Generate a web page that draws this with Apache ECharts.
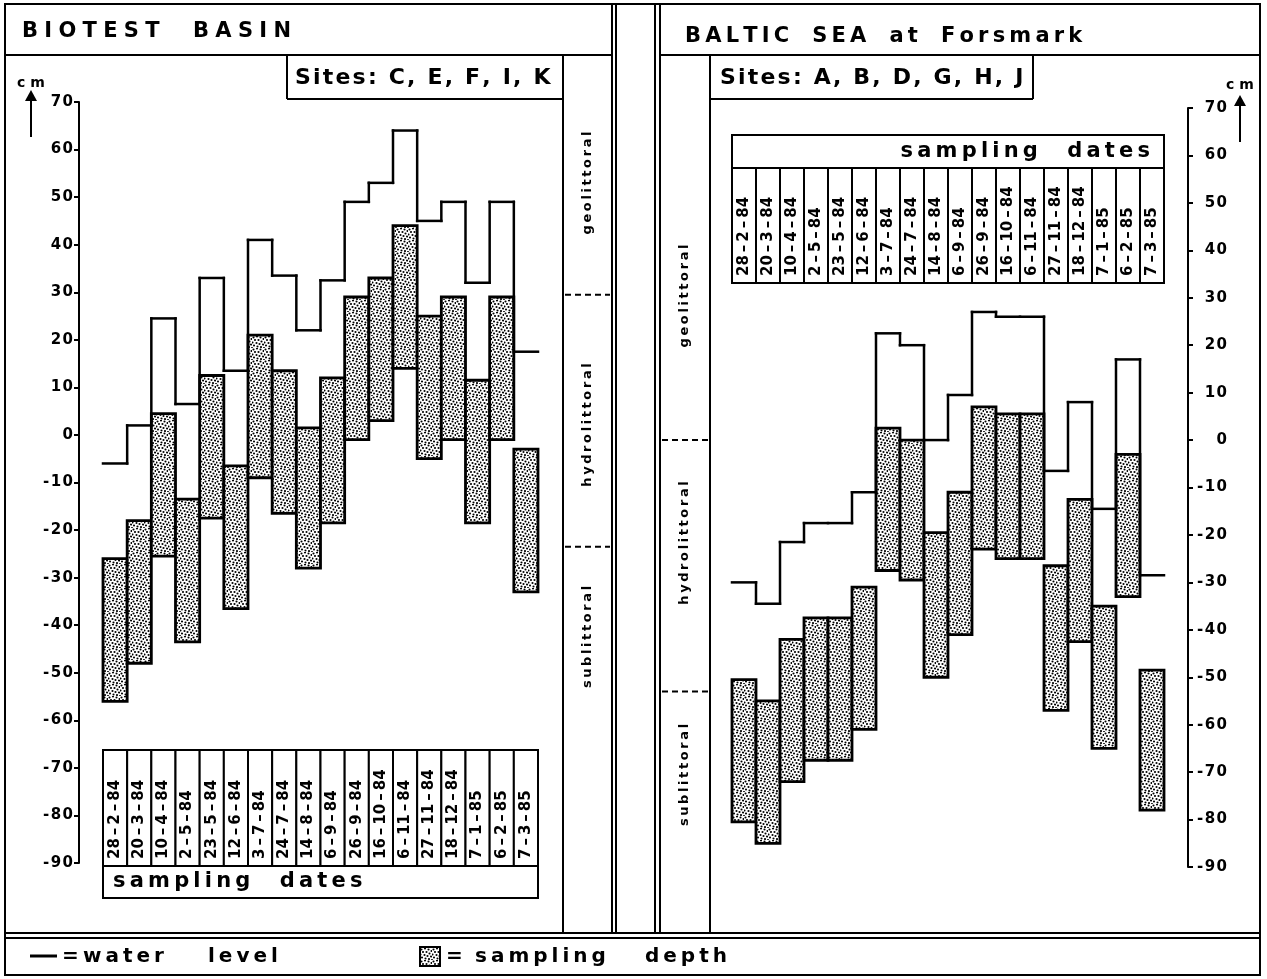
<!DOCTYPE html>
<html>
<head>
<meta charset="utf-8">
<script src="https://cdn.jsdelivr.net/npm/echarts@6/dist/echarts.min.js"></script>
<style>
  html, body { margin: 0; padding: 0; background: #fff; }
  #chart { width: 1267px; height: 979px; }
</style>
</head>
<body>
<div id="chart"></div>
<script>
// Sampling dates, identical at both stations
const samplingDates = ['28-2-84', '20-3-84', '10-4-84', '2-5-84', '23-5-84', '12-6-84', '3-7-84',
  '24-7-84', '14-8-84', '6-9-84', '26-9-84', '16-10-84', '6-11-84', '27-11-84', '18-12-84',
  '7-1-85', '6-2-85', '7-3-85'];

// Depth scale (cm), tick every 10 cm
const depthTicks = [-90, -80, -70, -60, -50, -40, -30, -20, -10, 0, 10, 20, 30, 40, 50, 60, 70];

// Biotest basin, sites C, E, F, I, K (cm)
const biotestWater  = [-6, 2, 24.5, 6.5, 33, 13.5, 41, 33.5, 22, 32.5, 49, 53, 64, 45, 49, 32, 49, 17.5];
const biotestTop    = [-26, -18, 4.5, -13.5, 12.5, -6.5, 21, 13.5, 1.5, 12, 29, 33, 44, 25, 29, 11.5, 29, -3];
const biotestBottom = [-56, -48, -25.5, -43.5, -17.5, -36.5, -9, -16.5, -28, -18.5, -1, 3, 14, -5, -1, -18.5, -1, -33];

// Baltic Sea at Forsmark, sites A, B, D, G, H, J (cm)
const balticWater  = [-30, -34.5, -21.5, -17.5, -17.5, -11, 22.5, 20, 0, 9.5, 27, 26, 26, -6.5, 8, -14.5, 17, -28.5];
const balticTop    = [-50.5, -55, -42, -37.5, -37.5, -31, 2.5, 0, -19.5, -11, 7, 5.5, 5.5, -26.5, -12.5, -35, -3, -48.5];
const balticBottom = [-80.5, -85, -72, -67.5, -67.5, -61, -27.5, -29.5, -50, -41, -23, -25, -25, -57, -42.5, -65, -33, -78];

// Shore zones and their boundaries (cm)
const zoneNames = ['geolittoral', 'hydrolittoral', 'sublittoral'];
const biotestZoneLimits = [29.5, -23.5];
const balticZoneLimits = [0, -53];

const FAM = '"DejaVu Sans", sans-serif';
const INK = '#000';
const THIN = '\u2009';
const HAIR = '\u200A';

// spreads letters apart; word gaps can be widened
function track(s, gap, word) {
  return Array.from(s).map(c => (c === ' ' ? (word || ' ') : c)).join(gap);
}

// dotted fill used for the sampling-depth boxes
function stippleTile() {
  const c = document.createElement('canvas');
  c.width = 12; c.height = 12;
  const g = c.getContext('2d');
  g.fillStyle = '#fff';
  g.fillRect(0, 0, 12, 12);
  g.fillStyle = '#000';
  const dots = [[1.5, 1.5], [5, 0.5], [8.5, 1.5], [11.5, 3], [3, 4], [6.5, 4], [9.5, 5.5],
    [0.5, 6.5], [4.5, 7], [7.5, 8], [11, 8.5], [2, 9.5], [5.5, 10.5], [9, 11], [12, 12], [0, 12]];
  dots.forEach(([x, y]) => { g.beginPath(); g.arc(x, y, 1.05, 0, Math.PI * 2); g.fill(); });
  return c;
}
const STIPPLE = { image: stippleTile(), repeat: 'repeat' };

const chart = echarts.init(document.getElementById('chart'), null, { renderer: 'canvas', width: 1267, height: 979 });

function depthAxis(gridIndex, side) {
  return {
    gridIndex, type: 'value', position: side, offset: 24,
    min: depthTicks[0], max: depthTicks[depthTicks.length - 1], interval: 10,
    axisLine: { show: true, lineStyle: { color: INK, width: 2 } },
    axisTick: { show: true, length: 5, lineStyle: { color: INK, width: 2 } },
    splitLine: { show: false },
    axisLabel: {
      color: INK, fontFamily: FAM, fontWeight: 'bold', fontSize: 15,
      showMinLabel: true, showMaxLabel: true,
      margin: side === 'left' ? 6 : 39, align: 'right',
      formatter: v => track(String(v), HAIR)
    }
  };
}

function depthSeries(idx, tops, bottoms) {
  return {
    type: 'custom', xAxisIndex: idx, yAxisIndex: idx, clip: false, z: 2,
    data: tops.map((t, i) => [i, t, bottoms[i]]),
    renderItem(params, api) {
      const i = api.value(0);
      const a = api.coord([i, api.value(1)]);
      const b = api.coord([i, api.value(2)]);
      const w = api.size([1, 0])[0];
      return {
        type: 'rect',
        shape: { x: a[0] - w / 2, y: a[1], width: w, height: b[1] - a[1] },
        style: { fill: STIPPLE, stroke: INK, lineWidth: 2.8 }
      };
    }
  };
}

// water level as a step line spanning each sampling slot
function waterSeries(idx, levels) {
  return {
    type: 'custom', xAxisIndex: idx, yAxisIndex: idx, clip: false, z: 3,
    data: levels.map((v, i) => [i, v]),
    renderItem(params, api) {
      const i = api.value(0);
      const p = api.coord([i, api.value(1)]);
      const w = api.size([1, 0])[0];
      const xl = p[0] - w / 2, xr = p[0] + w / 2;
      const st = { stroke: INK, lineWidth: 2.5, lineCap: 'square' };
      const kids = [{ type: 'line', shape: { x1: xl, y1: p[1], x2: xr, y2: p[1] }, style: st }];
      if (i > 0) {
        const q = api.coord([i, levels[i - 1]]);
        kids.push({ type: 'line', shape: { x1: xl, y1: q[1], x2: xl, y2: p[1] }, style: st });
      }
      return { type: 'group', children: kids };
    }
  };
}

chart.setOption({
  animation: false,
  backgroundColor: '#fff',
  grid: [
    { left: 103, top: 102, width: 435, height: 761, outerBoundsMode: 'none' },
    { left: 732, top: 108, width: 432, height: 759, outerBoundsMode: 'none' }
  ],
  xAxis: [
    { gridIndex: 0, type: 'category', data: samplingDates, show: false },
    { gridIndex: 1, type: 'category', data: samplingDates, show: false }
  ],
  yAxis: [depthAxis(0, 'left'), depthAxis(1, 'right')],
  series: [
    depthSeries(0, biotestTop, biotestBottom),
    waterSeries(0, biotestWater),
    depthSeries(1, balticTop, balticBottom),
    waterSeries(1, balticWater)
  ]
});

// ---- frame, tables, zone strip and legend ----
const line = (x1, y1, x2, y2, w, dash) => ({
  type: 'line', silent: true, shape: { x1, y1, x2, y2 },
  style: { stroke: INK, lineWidth: w || 2, lineDash: dash || null }
});
const label = (x, y, str, font, o) => ({
  type: 'text', x, y, rotation: (o && o.rot) || 0, silent: true, z: 10,
  style: { text: str, font, fill: INK, align: (o && o.align) || 'left', verticalAlign: (o && o.va) || 'middle' }
});
const box = (x, y, w, h, fill) => ({
  type: 'rect', silent: true, shape: { x, y, width: w, height: h },
  style: { fill: fill || '#fff', stroke: INK, lineWidth: 2 }
});

const DATE_FONT = 'bold 15px ' + FAM;
const dateText = d => d.split('-').join(THIN + '\u2013' + THIN);

function dateTable(ax, cellTop, cellBottom, headTop, headBottom, headerRight) {
  const els = [];
  const c0 = chart.convertToPixel({ xAxisIndex: ax }, 0);
  const c1 = chart.convertToPixel({ xAxisIndex: ax }, 1);
  const bw = c1 - c0;
  const left = c0 - bw / 2;
  const right = left + bw * samplingDates.length;
  samplingDates.forEach((d, i) => {
    const cx = chart.convertToPixel({ xAxisIndex: ax }, i);
    els.push(box(cx - bw / 2, cellTop, bw, cellBottom - cellTop));
    els.push(label(cx, cellBottom - 7, dateText(d), DATE_FONT, { rot: Math.PI / 2 }));
  });
  els.push(box(left, headTop, right - left, headBottom - headTop));
  const head = track('sampling dates', THIN, '\u2003');
  const hy = (headTop + headBottom) / 2;
  els.push(headerRight
    ? label(right - 14, hy, head, 'bold 21px ' + FAM, { align: 'right' })
    : label(left + 10, hy, head, 'bold 21px ' + FAM));
  return els;
}

function zoneStrip(ax, x1, x2, limits, centers) {
  const els = [];
  limits.forEach(v => {
    const y = chart.convertToPixel({ yAxisIndex: ax }, v);
    els.push(line(x1 + 2, y, x2 - 2, y, 2, [6, 4]));
  });
  zoneNames.forEach((n, k) => {
    els.push(label((x1 + x2) / 2, centers[k], track(n, THIN), 'bold 13px ' + FAM,
      { rot: Math.PI / 2, align: 'center' }));
  });
  return els;
}

function cmArrow(x, textY, tipY, tailY) {
  return [
    label(x, textY, 'c m', 'bold 14px ' + FAM, { align: 'center' }),
    line(x, tipY + 8, x, tailY, 2),
    { type: 'polygon', silent: true, shape: { points: [[x, tipY], [x - 6, tipY + 11], [x + 6, tipY + 11]] },
      style: { fill: INK } }
  ];
}

const TITLE_FONT = 'bold 21px ' + FAM;
const SITES_FONT = 'bold 22px ' + FAM;
const LEG_FONT = 'bold 20px ' + FAM;

const g = [];
// outer frame and panel rules
g.push({ type: 'rect', silent: true, shape: { x: 5, y: 4, width: 1255, height: 971 },
  style: { fill: 'none', stroke: INK, lineWidth: 2 } });
g.push(line(5, 55, 612, 55), line(660, 55, 1260, 55));
g.push(line(5, 933, 1260, 933), line(5, 938, 1260, 938));
g.push(line(612, 4, 612, 933), line(616, 4, 616, 933), line(655, 4, 655, 933), line(660, 4, 660, 933));
g.push(line(563, 55, 563, 933), line(710, 55, 710, 933));
// site boxes
g.push(line(287, 55, 287, 99), line(287, 99, 563, 99));
g.push(line(1033, 55, 1033, 99), line(710, 99, 1033, 99));
// titles
g.push(label(22, 32, track('BIOTEST BASIN', THIN + HAIR, '\u2003'), TITLE_FONT));
g.push(label(685, 37, track('BALTIC SEA at Forsmark', THIN, '\u2002\u2009'), TITLE_FONT));
g.push(label(295, 78, track('Sites: C, E, F, I, K', HAIR), SITES_FONT));
g.push(label(720, 78, track('Sites: A, B, D, G, H, J', HAIR), SITES_FONT));
// unit arrows
g.push(...cmArrow(31, 83, 90, 137), ...cmArrow(1240, 85, 95, 142));
// date tables
g.push(...dateTable(0, 750, 866, 866, 898, false));
g.push(...dateTable(1, 168, 283, 135, 168, true));
// zone strips
g.push(...zoneStrip(0, 563, 612, biotestZoneLimits, [183, 425, 637]));
g.push(...zoneStrip(1, 660, 710, balticZoneLimits, [296, 543, 775]));
// legend
g.push(line(30, 956, 57, 956, 3));
g.push(label(62, 957, '=', LEG_FONT));
g.push(label(83, 957, track('water', THIN), LEG_FONT));
g.push(label(208, 957, track('level', THIN), LEG_FONT));
g.push(box(420, 947, 20, 19, STIPPLE));
g.push(label(446, 957, '=', LEG_FONT));
g.push(label(475, 957, track('sampling', THIN), LEG_FONT));
g.push(label(645, 957, track('depth', THIN), LEG_FONT));

chart.setOption({ graphic: { elements: g } });
</script>
</body>
</html>
